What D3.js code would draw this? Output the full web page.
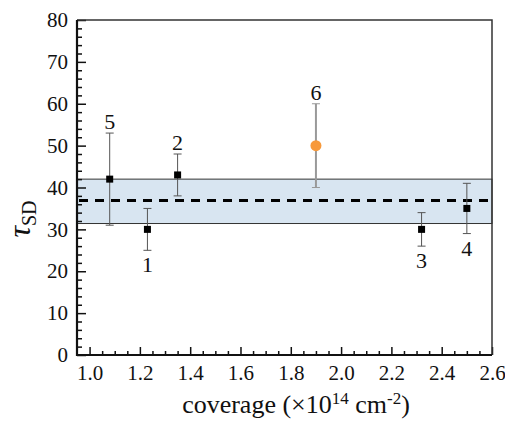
<!DOCTYPE html>
<html>
<head>
<meta charset="utf-8">
<script src="https://cdn.jsdelivr.net/npm/d3@7"></script>
</head>
<body style="margin:0">
<svg id="chart" width="505" height="421" font-family="Liberation Serif"></svg>
<script>
// ---------- Data ----------
const ids      = ["1", "2", "3", "4", "5", "6"];
const coverage = [1.23, 1.35, 2.32, 2.50, 1.08, 1.90];
const tau      = [30, 43, 30, 35, 42, 50];
const errLow   = [25, 38, 26, 29, 31, 40];
const errHigh  = [35, 48, 34, 41, 53, 60];
const labelPos = ["below", "above", "below", "below", "above", "above"];
const highlight = ["6"];

const bandRange = [31.4, 42];
const meanTau = 36.9;

const xTicks = [1.0, 1.2, 1.4, 1.6, 1.8, 2.0, 2.2, 2.4, 2.6];
const yTicks = [0, 10, 20, 30, 40, 50, 60, 70, 80];

const rows = ids.map((id, i) => ({
  id, x: coverage[i], y: tau[i], lo: errLow[i], hi: errHigh[i], pos: labelPos[i]
}));

const FONT = "Liberation Serif";

// ---------- Layout ----------
const svg = d3.select("#chart");
const M = { t: 20, r: 13, b: 66, l: 77 };
const W = 505, H = 421;

const x = d3.scaleLinear().domain([0.95, 2.6]).range([M.l, W - M.r]);
const y = d3.scaleLinear().domain([0, 80]).range([H - M.b, M.t]);

// band + mean
svg.append("rect")
  .attr("x", x(0.95)).attr("width", x(2.6) - x(0.95))
  .attr("y", y(bandRange[1])).attr("height", y(bandRange[0]) - y(bandRange[1]))
  .attr("fill", "#d8e5f1").attr("stroke", "#333").attr("stroke-width", 1);

svg.append("line")
  .attr("x1", x(0.95) + 2).attr("x2", x(2.6) - 2)
  .attr("y1", y(meanTau)).attr("y2", y(meanTau))
  .attr("stroke", "#000").attr("stroke-width", 3).attr("stroke-dasharray", "9,7");

// ---------- Axes ----------
const xMinor = d3.range(1.0, 2.601, 0.05).filter(v => !xTicks.some(t => Math.abs(t - v) < 1e-6));
const yMinor = d3.range(0, 80.01, 2).filter(v => v % 10 !== 0);

const gx = svg.append("g").attr("transform", `translate(0,${y(0)})`)
  .call(d3.axisBottom(x).tickValues(xTicks).tickFormat(d3.format(".1f")).tickSize(-8).tickPadding(10));
const gxm = svg.append("g").attr("transform", `translate(0,${y(0)})`)
  .call(d3.axisBottom(x).tickValues(xMinor).tickFormat("").tickSize(-4));
const gy = svg.append("g").attr("transform", `translate(${x(0.95)},0)`)
  .call(d3.axisLeft(y).tickValues(yTicks).tickFormat(d3.format("d")).tickSize(-9).tickPadding(9));
const gym = svg.append("g").attr("transform", `translate(${x(0.95)},0)`)
  .call(d3.axisLeft(y).tickValues(yMinor).tickFormat("").tickSize(-5));

[gx, gxm, gy, gym].forEach(g => {
  g.attr("font-family", FONT).attr("font-size", 21);
  g.select(".domain").remove();
  g.selectAll(".tick line").attr("stroke", "#111").attr("stroke-width", 1.5);
  g.selectAll(".tick text").attr("fill", "#111");
});
gx.selectAll(".tick text").attr("dy", "0.71em");

// spines
svg.append("path")
  .attr("d", `M${x(2.6)},${y(0)}V${y(80)}H${x(0.95)}`)
  .attr("fill", "none").attr("stroke", "#333").attr("stroke-width", 1.5);
svg.append("path")
  .attr("d", `M${x(0.95)},${y(80)}V${y(0)}H${x(2.6)}`)
  .attr("fill", "none").attr("stroke", "#111").attr("stroke-width", 2.2);

// ---------- Points ----------
const pts = svg.append("g").selectAll("g").data(rows).join("g");
const barColor = d => highlight.includes(d.id) ? "#999" : "#555";

pts.append("line")
  .attr("x1", d => x(d.x)).attr("x2", d => x(d.x))
  .attr("y1", d => y(d.lo)).attr("y2", d => y(d.hi))
  .attr("stroke", barColor)
  .attr("stroke-width", d => highlight.includes(d.id) ? 2 : 1);
["lo", "hi"].forEach(k => {
  pts.append("line")
    .attr("x1", d => x(d.x) - 4).attr("x2", d => x(d.x) + 4)
    .attr("y1", d => y(d[k])).attr("y2", d => y(d[k]))
    .attr("stroke", barColor).attr("stroke-width", 1);
});

pts.filter(d => !highlight.includes(d.id)).append("rect")
  .attr("x", d => x(d.x) - 3.5).attr("y", d => y(d.y) - 3.5)
  .attr("width", 7).attr("height", 7).attr("fill", "#000");
pts.filter(d => highlight.includes(d.id)).append("circle")
  .attr("cx", d => x(d.x)).attr("cy", d => y(d.y)).attr("r", 5.5)
  .attr("fill", "#f7993b");

pts.append("text")
  .attr("x", d => x(d.x))
  .attr("y", d => d.pos === "above" ? y(d.hi) - 4 : y(d.lo) + 22)
  .attr("text-anchor", "middle").attr("font-size", 22).attr("fill", "#111")
  .text(d => d.id);

// ---------- Labels ----------
const xl = svg.append("text").attr("x", 296).attr("y", 413)
  .attr("text-anchor", "middle").attr("font-size", 26).attr("fill", "#111");
xl.append("tspan").text("coverage (×10");
xl.append("tspan").attr("dy", -9).attr("font-size", 17).text("14");
xl.append("tspan").attr("dy", 9).text(" cm");
xl.append("tspan").attr("dy", -9).attr("font-size", 17).text("-2");
xl.append("tspan").attr("dy", 9).text(")");

const yl = svg.append("text")
  .attr("transform", "translate(30,219) rotate(-90)")
  .attr("text-anchor", "middle").attr("fill", "#111");
yl.append("tspan").attr("font-size", 32).attr("font-style", "italic").text("τ");
yl.append("tspan").attr("dy", 6).attr("font-size", 20).text("SD");

svg.selectAll("text").attr("font-family", FONT).style("font-family", FONT);
</script>
</body>
</html>
